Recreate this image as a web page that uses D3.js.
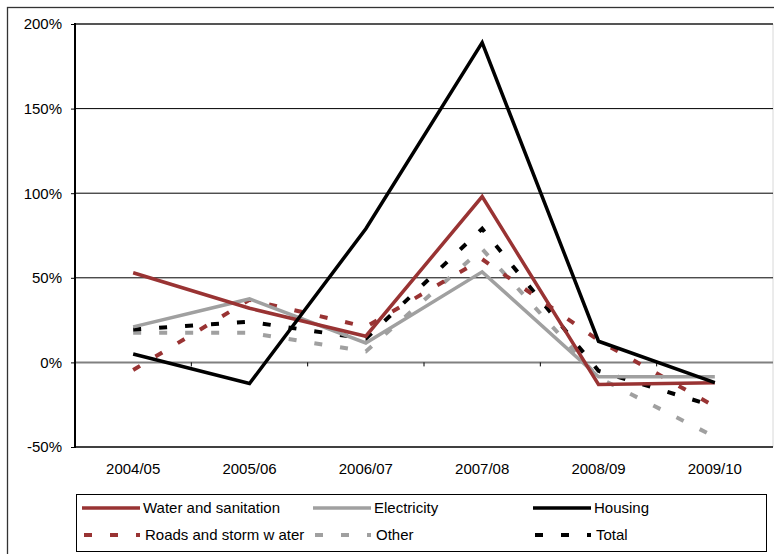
<!DOCTYPE html>
<html>
<head>
<meta charset="utf-8">
<script src="https://cdn.jsdelivr.net/npm/d3@7"></script>
<style>
  html, body { margin: 0; padding: 0; background: #fff; }
  svg { display: block; font-family: Arial, "Liberation Sans", sans-serif; }
</style>
</head>
<body>
<svg id="chart" width="774" height="554"></svg>
<script>
// Annual growth by service category
const years = ["2004/05", "2005/06", "2006/07", "2007/08", "2008/09", "2009/10"];
const waterSanitation = [53, 32, 15.5, 98, -13, -12];
const electricity = [21, 37.5, 11.5, 53.5, -8.5, -8.5];
const housing = [5, -12.5, 79, 189, 12.5, -12];
const roadsStormWater = [-4.5, 37, 21, 61, 13, -26];
const other = [17.5, 17.5, 6.5, 67, -9, -44];
const total = [19.5, 24, 14, 79, -5, -26];
const yTicks = [-50, 0, 50, 100, 150, 200];

const series = [
  { name: "Water and sanitation", values: waterSanitation, color: "#993333", dashed: false },
  { name: "Electricity", values: electricity, color: "#a0a0a0", dashed: false },
  { name: "Housing", values: housing, color: "#000000", dashed: false },
  { name: "Roads and storm w ater", values: roadsStormWater, color: "#993333", dashed: true },
  { name: "Other", values: other, color: "#a0a0a0", dashed: true },
  { name: "Total", values: total, color: "#000000", dashed: true }
];

const svg = d3.select("#chart");
const plot = { left: 75, right: 773, top: 24, bottom: 447 };

const x = d3.scaleBand().domain(years).range([plot.left, plot.right]).padding(0);
const y = d3.scaleLinear().domain([-50, 200]).range([plot.bottom, plot.top]);

// outer chart frame
svg.append("rect")
  .attr("x", 7.5).attr("y", 7.5).attr("width", 790).attr("height", 600)
  .attr("fill", "none").attr("stroke", "#333").attr("stroke-width", 1.3);

// right edge of the plot area
svg.append("line")
  .attr("x1", plot.right).attr("x2", plot.right)
  .attr("y1", plot.top).attr("y2", plot.bottom)
  .attr("stroke", "#d8d8d8").attr("stroke-width", 1);

// horizontal gridlines
svg.append("g").selectAll("line")
  .data(yTicks)
  .join("line")
  .attr("x1", plot.left).attr("x2", plot.right)
  .attr("y1", d => y(d)).attr("y2", d => y(d))
  .attr("stroke", d => (d === 0 ? "#808080" : d === 200 ? "#555" : "#000"))
  .attr("stroke-width", d => (d === 0 || d === 200 ? 2 : d === -50 ? 1.5 : 1));

// category separators on the zero line
svg.append("g").selectAll("line")
  .data(years.slice(1))
  .join("line")
  .attr("x1", d => x(d)).attr("x2", d => x(d))
  .attr("y1", y(0)).attr("y2", y(0) + 4)
  .attr("stroke", "#000").attr("stroke-width", 1);

// y axis
const yAxis = svg.append("g")
  .attr("transform", `translate(${plot.left},0)`)
  .call(d3.axisLeft(y).tickValues(yTicks).tickSize(4).tickPadding(9).tickFormat(d => d + "%"));
yAxis.select(".domain").remove();
yAxis.selectAll("text").attr("font-size", 15).attr("fill", "#000").attr("font-family", "Arial, 'Liberation Sans', sans-serif");
yAxis.selectAll(".tick line").attr("stroke", "#000");

svg.append("line")
  .attr("x1", plot.left).attr("x2", plot.left)
  .attr("y1", plot.top - 1).attr("y2", plot.bottom + 1)
  .attr("stroke", "#000").attr("stroke-width", 2);

// x axis labels
const xAxis = svg.append("g")
  .attr("transform", `translate(0,${plot.bottom})`)
  .call(d3.axisBottom(x).tickSize(0).tickPadding(16));
xAxis.select(".domain").remove();
xAxis.selectAll("text").attr("font-size", 15).attr("fill", "#000").attr("font-family", "Arial, 'Liberation Sans', sans-serif");

// series lines
const line = d3.line()
  .x((d, i) => x(years[i]) + x.bandwidth() / 2)
  .y(d => y(d));

const drawOrder = [4, 5, 3, 1, 0, 2];
svg.append("g").selectAll("path")
  .data(drawOrder.map(i => series[i]))
  .join("path")
  .attr("d", d => line(d.values))
  .attr("fill", "none")
  .attr("stroke", d => d.color)
  .attr("stroke-width", d => (d.dashed ? 4 : 3.5))
  .attr("stroke-dasharray", d => (d.dashed ? "8,18" : null))
  .attr("stroke-linejoin", "miter");

// legend
const legend = svg.append("g");
legend.append("rect")
  .attr("x", 76.5).attr("y", 494.5).attr("width", 690).attr("height", 57)
  .attr("fill", "#fff").attr("stroke", "#000").attr("stroke-width", 1);

const colX = [82, 313, 533];
const rowY = [508, 535];
const items = legend.selectAll("g.item")
  .data(series)
  .join("g")
  .attr("class", "item")
  .attr("transform", (d, i) => `translate(${colX[i % 3]},${rowY[Math.floor(i / 3)]})`);

items.append("line")
  .attr("x1", d => (d.dashed ? 2 : 0)).attr("x2", 58)
  .attr("y1", 0).attr("y2", 0)
  .attr("stroke", d => d.color)
  .attr("stroke-width", d => (d.dashed ? 4 : 3.5))
  .attr("stroke-dasharray", d => (d.dashed ? "8,18" : null));

items.append("text")
  .attr("x", d => (d.dashed ? 63 : 61))
  .attr("y", 0)
  .attr("dy", "0.35em")
  .attr("font-size", 15)
  .attr("fill", "#000")
  .text(d => d.name);
</script>
</body>
</html>
